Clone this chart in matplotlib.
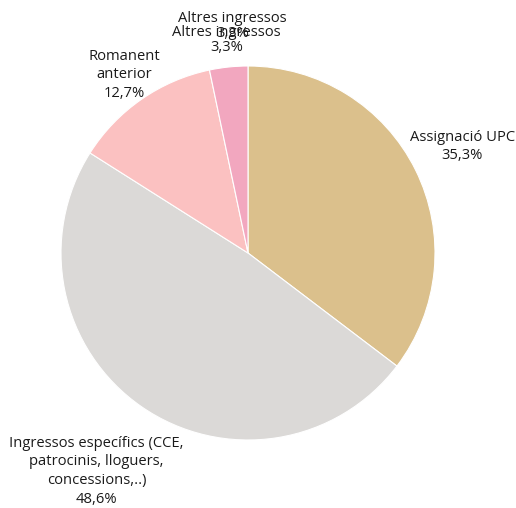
import numpy as np
import matplotlib
matplotlib.use("Agg")
import matplotlib.pyplot as plt

plt.rcParams['font.family'] = ['Open Sans', 'DejaVu Sans']

labels = ["Assignació UPC", "Ingressos específics (CCE,\npatrocinis, lloguers,\nconcessions,..)", "Romanent\nanterior", "Altres ingressos"]
values = [35.3, 48.6, 12.7, 3.3]
pct_text = ["35,3%", "48,6%", "12,7%", "3,3%"]
colors = ["#dbc08c", "#dbd9d7", "#fbc1c1", "#f2a7bf"]
label_dist = [1.28, 1.42, 1.16, 1.22]

W, H = 516, 508
fig = plt.figure(figsize=(W / 100, H / 100), dpi=100)
cx, cy, R = 248, 253, 187
ax = fig.add_axes([(cx - R) / W, (H - cy - R) / H, 2 * R / W, 2 * R / H])
wedges, _ = ax.pie(values, colors=colors, startangle=90, counterclock=False,
                   radius=1, wedgeprops=dict(edgecolor="white", linewidth=0.8))
ax.set_xlim(-1, 1)
ax.set_ylim(-1, 1)
ax.set_aspect('equal')
ax.axis('off')

fs = 10.6
for i, (w, lab, pct, d) in enumerate(zip(wedges, labels, pct_text, label_dist)):
    ang = np.deg2rad((w.theta1 + w.theta2) / 2)
    x, y = d * np.cos(ang), d * np.sin(ang)
    ls = 1.33
    if i == 3:
        ls = 1.05
        x += 0.045
    ax.text(x, y, lab + "\n" + pct, ha='center', va='center', fontsize=fs,
            color='#1a1a1a', linespacing=ls, clip_on=False)

# duplicated label for the small slice (as in the reference)
w = wedges[3]
ang = np.deg2rad((w.theta1 + w.theta2) / 2)
ax.text(1.145 * np.cos(ang) + 0.005, 1.145 * np.sin(ang), labels[3] + "\n" + pct_text[3],
        ha='center', va='center', fontsize=fs, color='#1a1a1a', linespacing=1.05, clip_on=False)

fig.savefig("out.png", dpi=100, facecolor="white")
